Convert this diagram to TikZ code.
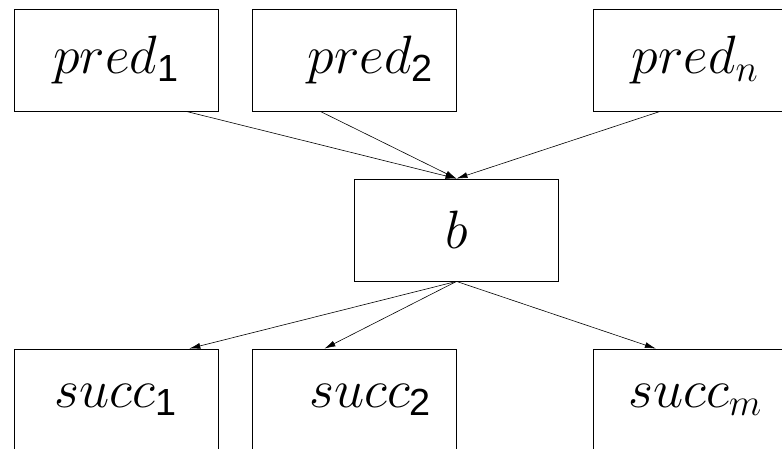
\RequirePackage{fix-cm}
\documentclass[tikz,border=0pt]{standalone}
\usepackage{amsmath}
\usepackage{fontspec}
\newfontfamily\subfam{Liberation Sans}
\newcommand{\sfidx}[1]{\text{\subfam #1}}
\usetikzlibrary{arrows.meta,calc}

\begin{document}
\begin{tikzpicture}[x=1pt,y=-1pt,
  box/.style={draw, line width=0.8pt, minimum width=204pt, minimum height=102pt,
              inner sep=0pt, font=\fontsize{54}{60}\selectfont},
  link/.style={-{Latex[length=11pt,width=6pt]}, line width=0.6pt}]
\useasboundingbox (0,0) rectangle (782,448);

% predecessors
\node[box] (p1) at (116,60)   {$pred_{\sfidx{1}}$};
\node[box] (p2) at (354.5,60) {\hspace*{32pt}$pred_{\sfidx{2}}$};
\node[box] (pn) at (695,60)   {$pred_n$};

% the block itself
\node[box] (b) at (456.5,230) {$b$};

% successors
\node[box] (s1) at (116,400)   {$succ_{\sfidx{1}}$};
\node[box] (s2) at (354.5,400) {\hspace*{32pt}$succ_{\sfidx{2}}$};
\node[box] (sm) at (695,400)   {$succ_m$};

% attachment points on the outer boxes
\coordinate (p1a) at ($(p1.south west)!0.843!(p1.south east)$);
\coordinate (p2a) at ($(p2.south west)!0.333!(p2.south east)$);
\coordinate (pna) at ($(pn.south west)!0.330!(pn.south east)$);
\coordinate (s1a) at ($(s1.north west)!0.858!(s1.north east)$);
\coordinate (s2a) at ($(s2.north west)!0.353!(s2.north east)$);
\coordinate (sma) at ($(sm.north west)!0.309!(sm.north east)$);

% edges
\draw[link] (p1a) -- (b.north);
\draw[link] (p2a) -- (b.north);
\draw[link] (pna) -- (b.north);
\draw[link] (b.south) -- (s1a);
\draw[link] (b.south) -- (s2a);
\draw[link] (b.south) -- (sma);
\end{tikzpicture}
\end{document}
